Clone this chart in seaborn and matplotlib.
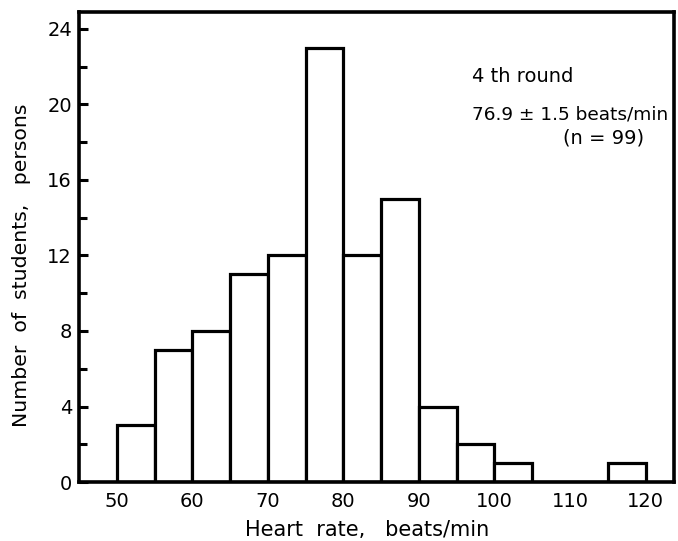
import numpy as np
import matplotlib
matplotlib.use("Agg")
import matplotlib.pyplot as plt
from matplotlib.ticker import MultipleLocator
import seaborn as sns

# =========================
# Data
# =========================
bin_left = [50, 55, 60, 65, 70, 75, 80, 85, 90, 95, 100, 105, 110, 115]
students = [3, 7, 8, 11, 12, 23, 12, 15, 4, 2, 1, 0, 0, 1]
bin_edges = list(range(50, 125, 5))

sns.set_style("white")
plt.rcParams["font.family"] = ["DejaVu Sans"]
plt.rcParams["text.color"] = "black"
plt.rcParams["axes.labelcolor"] = "black"
plt.rcParams["xtick.color"] = "black"
plt.rcParams["ytick.color"] = "black"

fig = plt.figure(figsize=(6.78, 5.41), dpi=100)
ax = fig.add_axes([0.1165, 0.109, 0.878, 0.869])

sns.histplot(x=[b + 2.5 for b in bin_left], weights=students, bins=bin_edges,
             color="white", edgecolor="black", linewidth=2.3, alpha=1, ax=ax)

ax.set_xlim(45, 123.8)
ax.set_ylim(0, 24.9)
ax.set_xticks([50, 60, 70, 80, 90, 100, 110, 120])
ax.yaxis.set_major_locator(MultipleLocator(4))
ax.yaxis.set_minor_locator(MultipleLocator(2))

for s in ax.spines.values():
    s.set_visible(True)
    s.set_color("black")
    s.set_linewidth(2.6)

ax.tick_params(axis="y", which="major", direction="in", length=6.5, width=2.2,
               labelsize=14, pad=5, left=True)
ax.tick_params(axis="y", which="minor", direction="in", length=6, width=2.2, left=True)
ax.tick_params(axis="x", which="both", length=0, labelsize=14, pad=7)

ax.set_xlabel("Heart  rate,   beats/min", fontsize=15, labelpad=7, x=0.484)
ax.set_ylabel("Number  of  students,   persons", fontsize=14.7, labelpad=12, y=0.46)

ax.text(0.66, 0.862, "4 th round", transform=ax.transAxes, fontsize=14, va="center")
ax.text(0.66, 0.781, "76.9 ± 1.5 beats/min", transform=ax.transAxes, fontsize=13.3, va="center")
ax.text(0.813, 0.732, "(n = 99)", transform=ax.transAxes, fontsize=14, va="center")

fig.savefig("out.png", dpi=100)
